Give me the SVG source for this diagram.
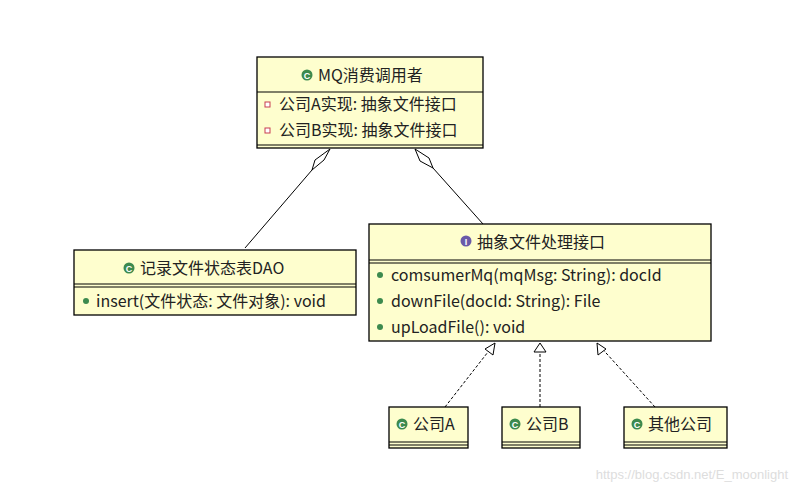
<svg xmlns="http://www.w3.org/2000/svg" width="797" height="494" viewBox="0 0 797 494">
<style>
.box{fill:#fefece;stroke:#000;stroke-width:1.3}
.ln{stroke:#000;stroke-width:1}
.t{font-family:"Microsoft YaHei","Noto Sans CJK SC",sans-serif;font-size:16px;fill:#222}
.c{text-anchor:middle}
.dash{stroke:#000;stroke-width:1;stroke-dasharray:3,2;fill:none}
</style>
<defs>
<g id="cic"><circle r="5.5" fill="#3c8a4e"/><text y="3.5" font-family="Liberation Sans,sans-serif" font-size="9" font-weight="bold" fill="#fff" text-anchor="middle">C</text></g>
</defs>
<rect width="797" height="494" fill="#fff"/>
<g id="connectors" fill="none">
<path d="M330,149 L324,160 L312,170 L315,160 Z M312,170 L245,248" stroke="#000" fill="#fff"/>
<path d="M415,149 L420,161 L433,168 L429,158 Z M433,168 L483,224" stroke="#000" fill="#fff"/>
<path class="dash" d="M445,407 L495,343"/>
<path d="M495,343 L485,349 L493,355 Z" stroke="#000" fill="#fff"/>
<path class="dash" d="M540,407 L540,343"/>
<path d="M540,343 L534,352 L546,352 Z" stroke="#000" fill="#fff"/>
<path class="dash" d="M655,407 L597,343"/>
<path d="M597,343 L598,355 L606,349 Z" stroke="#000" fill="#fff"/>
</g>
<g id="mq">
<rect class="box" x="257" y="57" width="226" height="91"/>
<line class="ln" x1="257" y1="92" x2="483" y2="92"/>
<line class="ln" x1="257" y1="145" x2="483" y2="145"/>
<use href="#cic" x="307" y="75"/>
<text class="t" x="318" y="81">MQ消费调用者</text>
<rect x="265" y="102" width="5" height="5" fill="#fff" stroke="#c83c50"/>
<text class="t" x="279" y="110">公司A实现: 抽象文件接口</text>
<rect x="265" y="128" width="5" height="5" fill="#fff" stroke="#c83c50"/>
<text class="t" x="279" y="136">公司B实现: 抽象文件接口</text>
</g>
<g id="dao">
<rect class="box" x="74" y="250" width="282" height="65"/>
<line class="ln" x1="74" y1="284" x2="356" y2="284"/>
<line class="ln" x1="74" y1="287" x2="356" y2="287"/>
<use href="#cic" x="129" y="268"/>
<text class="t" x="140" y="274">记录文件状态表DAO</text>
<circle cx="86" cy="301" r="3" fill="#3c8a4e"/>
<text class="t" x="96" y="307">insert(文件状态: 文件对象): void</text>
</g>
<g id="iface">
<rect class="box" x="369" y="224" width="342" height="117"/>
<line class="ln" x1="369" y1="260" x2="711" y2="260"/>
<line class="ln" x1="369" y1="263" x2="711" y2="263"/>
<circle cx="466" cy="241" r="5.5" fill="#6a5aa8"/>
<text x="466" y="244.5" font-family="Liberation Sans,sans-serif" font-size="9" font-weight="bold" fill="#fff" text-anchor="middle">I</text>
<text class="t" x="477" y="248">抽象文件处理接口</text>
<circle cx="380" cy="275" r="3" fill="#3c8a4e"/>
<text class="t" x="391" y="281">comsumerMq(mqMsg: String): docId</text>
<circle cx="380" cy="301" r="3" fill="#3c8a4e"/>
<text class="t" x="391" y="307">downFile(docId: String): File</text>
<circle cx="380" cy="327" r="3" fill="#3c8a4e"/>
<text class="t" x="391" y="333">upLoadFile(): void</text>
</g>
<g id="a">
<rect class="box" x="389" y="407" width="79" height="41"/>
<line class="ln" x1="389" y1="442" x2="468" y2="442"/>
<line class="ln" x1="389" y1="445" x2="468" y2="445"/>
<use href="#cic" x="402" y="424"/>
<text class="t" x="413" y="430">公司A</text>
</g>
<g id="b">
<rect class="box" x="502" y="407" width="78" height="41"/>
<line class="ln" x1="502" y1="442" x2="580" y2="442"/>
<line class="ln" x1="502" y1="445" x2="580" y2="445"/>
<use href="#cic" x="515" y="424"/>
<text class="t" x="526" y="430">公司B</text>
</g>
<g id="other">
<rect class="box" x="624" y="407" width="103" height="41"/>
<line class="ln" x1="624" y1="442" x2="727" y2="442"/>
<line class="ln" x1="624" y1="445" x2="727" y2="445"/>
<use href="#cic" x="637" y="424"/>
<text class="t" x="648" y="430">其他公司</text>
</g>
<text x="788" y="479" font-family="Liberation Sans,sans-serif" font-size="13" fill="#ddd" text-anchor="end">https://blog.csdn.net/E_moonlight</text>
</svg>
